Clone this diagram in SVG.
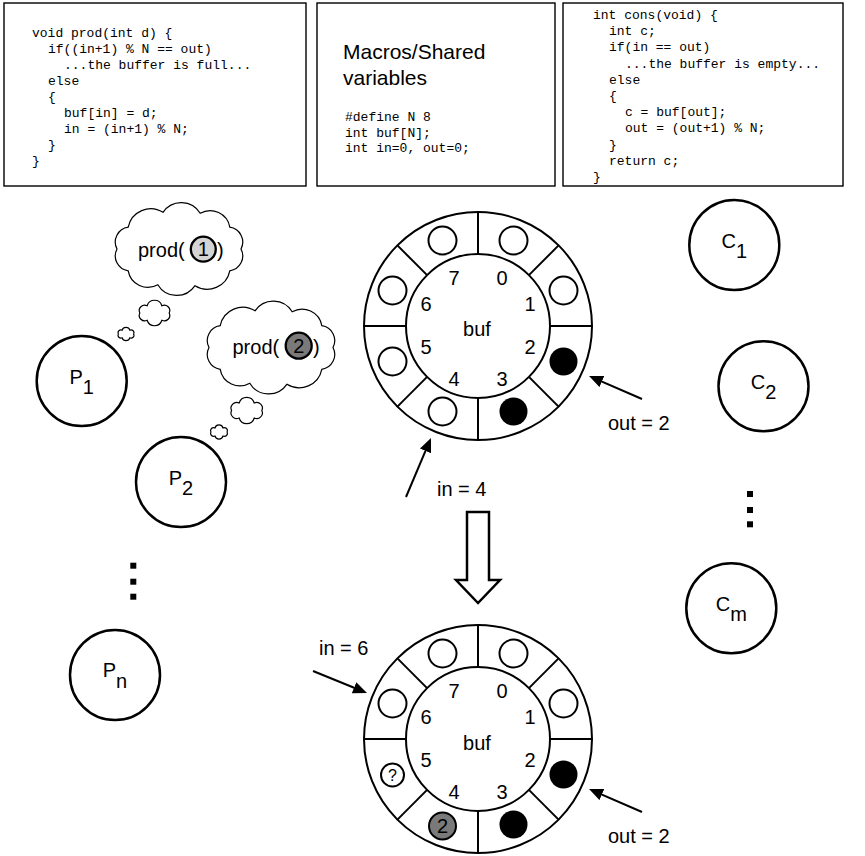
<svg xmlns="http://www.w3.org/2000/svg" xmlns:xlink="http://www.w3.org/1999/xlink" width="865" height="856" viewBox="0 0 865 856">
<style>
.box{fill:#fff;stroke:#000;stroke-width:1.4}
.code{font-family:"Liberation Mono","Courier New",monospace;font-size:13px;fill:#000}
.sans{font-family:"Liberation Sans",Arial,Helvetica,sans-serif;fill:#000}
.big{font-size:21px}
.lbl{font-size:20px}
.num{font-size:20px;text-anchor:middle}
.proc{fill:#fff;stroke:#000;stroke-width:2.5}
.ring{fill:#fff;stroke:#000;stroke-width:2}
.slot{fill:#fff;stroke:#000;stroke-width:2}
.full{fill:#000}
.arrow{fill:none;stroke:#000;stroke-width:2;marker-end:url(#ah)}
.cl{fill:#fff;stroke:#000}
.dot{fill:#000}
</style>
<defs>
<marker id="ah" markerUnits="userSpaceOnUse" markerWidth="15" markerHeight="12" refX="10" refY="6" orient="auto">
<path d="M0,0 L14,6 L0,12 Z" fill="#000"/>
</marker>
<path id="cloudBig" d="M62,0 A15,15 0 0,1 50.8,21.8 A23,23 0 0,1 16,36.7 A22,22 0 0,1 -21.2,35.7 A20,20 0 0,1 -50.8,21.8 A15,15 0 0,1 -62,0 A15,15 0 0,1 -50.8,-21.8 A23,23 0 0,1 -16,-36.7 A22,22 0 0,1 21.2,-35.7 A20,20 0 0,1 50.8,-21.8 A15,15 0 0,1 62,0 Z"/>
<path id="cloudSmall" d="M14,0 A5.2,5.2 0 0,1 7,6.93 A7.3,7.3 0 0,1 -7,6.93 A5.2,5.2 0 0,1 -14,0 A5.2,5.2 0 0,1 -7,-6.93 A7.3,7.3 0 0,1 7,-6.93 A5.2,5.2 0 0,1 14,0 Z"/>
<g id="ringBase">
<circle class="ring" r="114"/>
<circle class="ring" r="72"/>
<g stroke="#000" stroke-width="2">
<line x1="0" y1="-72" x2="0" y2="-114"/>
<line x1="50.9" y1="-50.9" x2="80.6" y2="-80.6"/>
<line x1="72" y1="0" x2="114" y2="0"/>
<line x1="50.9" y1="50.9" x2="80.6" y2="80.6"/>
<line x1="0" y1="72" x2="0" y2="114"/>
<line x1="-50.9" y1="50.9" x2="-80.6" y2="80.6"/>
<line x1="-72" y1="0" x2="-114" y2="0"/>
<line x1="-50.9" y1="-50.9" x2="-80.6" y2="-80.6"/>
</g>
</g>
</defs>
<rect width="865" height="856" fill="#fff"/>

<g id="box-prod">
<rect class="box" x="4" y="3" width="302" height="183"/>
<text class="code" x="32" y="37">void prod(int d) {</text>
<text class="code" x="48" y="53">if((in+1) % N == out)</text>
<text class="code" x="64" y="69">...the buffer is full...</text>
<text class="code" x="48" y="85">else</text>
<text class="code" x="48" y="101">{</text>
<text class="code" x="64" y="117">buf[in] = d;</text>
<text class="code" x="64" y="133">in = (in+1) % N;</text>
<text class="code" x="48" y="149">}</text>
<text class="code" x="32" y="165">}</text>
</g>

<g id="box-shared">
<rect class="box" x="317" y="3" width="238" height="183"/>
<text class="sans big" x="343" y="59">Macros/Shared</text>
<text class="sans big" x="343" y="85">variables</text>
<text class="code" x="345" y="121">#define N 8</text>
<text class="code" x="345" y="136.5">int buf[N];</text>
<text class="code" x="345" y="152">int in=0, out=0;</text>
</g>

<g id="box-cons">
<rect class="box" x="563" y="3" width="280" height="183"/>
<text class="code" x="593" y="19">int cons(void) {</text>
<text class="code" x="609" y="35.2">int c;</text>
<text class="code" x="609" y="51.4">if(in == out)</text>
<text class="code" x="625" y="67.6">...the buffer is empty...</text>
<text class="code" x="609" y="83.8">else</text>
<text class="code" x="609" y="100">{</text>
<text class="code" x="625" y="116.2">c = buf[out];</text>
<text class="code" x="625" y="132.4">out = (out+1) % N;</text>
<text class="code" x="609" y="148.6">}</text>
<text class="code" x="609" y="164.8">return c;</text>
<text class="code" x="593" y="181">}</text>
</g>

<g id="thought-1">
<use xlink:href="#cloudBig" class="cl" stroke-width="1.2" transform="translate(179,249)"/>
<use xlink:href="#cloudSmall" class="cl" stroke-width="1.15" transform="translate(154.5,313) scale(1.05)"/>
<use xlink:href="#cloudSmall" class="cl" stroke-width="2.2" transform="translate(126,334) scale(0.55)"/>
<text class="sans lbl" x="138" y="257">prod(</text>
<circle cx="203.3" cy="249.2" r="12.5" fill="#d4d4d4" stroke="#000" stroke-width="2.3"/>
<text class="sans num" x="203.3" y="256.3">1</text>
<text class="sans lbl" x="217" y="257">)</text>
</g>

<g id="thought-2">
<use xlink:href="#cloudBig" class="cl" stroke-width="1.2" transform="translate(271,347.5)"/>
<use xlink:href="#cloudSmall" class="cl" stroke-width="1.1" transform="translate(246.7,410.5) scale(1.08)"/>
<use xlink:href="#cloudSmall" class="cl" stroke-width="2.1" transform="translate(219,432) scale(0.58)"/>
<text class="sans lbl" x="232.5" y="353.5">prod(</text>
<circle cx="298.7" cy="345.7" r="13" fill="#7a7a7a" stroke="#000" stroke-width="2.3"/>
<text class="sans num" x="298.7" y="352.8">2</text>
<text class="sans lbl" x="313" y="353.5">)</text>
</g>

<g id="P1">
<circle class="proc" cx="81.7" cy="381" r="45"/>
<text class="sans lbl" x="81.7" y="384" text-anchor="middle">P<tspan dy="10">1</tspan></text>
</g>
<g id="P2">
<circle class="proc" cx="181" cy="482" r="45"/>
<text class="sans lbl" x="181" y="485" text-anchor="middle">P<tspan dy="10">2</tspan></text>
</g>
<g id="P-dots">
<rect class="dot" x="130.3" y="562.7" width="6" height="6"/>
<rect class="dot" x="130.3" y="578.7" width="6" height="6"/>
<rect class="dot" x="130.3" y="593.7" width="6" height="6"/>
</g>
<g id="Pn">
<circle class="proc" cx="115" cy="675" r="45"/>
<text class="sans lbl" x="115" y="677" text-anchor="middle">P<tspan dy="11">n</tspan></text>
</g>

<g id="C1">
<circle class="proc" cx="734.3" cy="245" r="45"/>
<text class="sans lbl" x="734.3" y="248" text-anchor="middle">C<tspan dy="10">1</tspan></text>
</g>
<g id="C2">
<circle class="proc" cx="763.5" cy="386.3" r="45"/>
<text class="sans lbl" x="763.5" y="389.3" text-anchor="middle">C<tspan dy="10">2</tspan></text>
</g>
<g id="C-dots">
<rect class="dot" x="747" y="491" width="6" height="6"/>
<rect class="dot" x="747" y="507" width="6" height="6"/>
<rect class="dot" x="747" y="521.3" width="6" height="6"/>
</g>
<g id="Cm">
<circle class="proc" cx="731.3" cy="608.3" r="45"/>
<text class="sans lbl" x="731.3" y="611.3" text-anchor="middle">C<tspan dy="10">m</tspan></text>
</g>

<g id="buffer-before" transform="translate(478,326)">
<use xlink:href="#ringBase"/>
<circle class="slot" cx="35.5" cy="-85.5" r="14"/>
<circle class="slot" cx="85.5" cy="-35.5" r="14"/>
<circle class="full" cx="85.5" cy="35.5" r="14"/>
<circle class="full" cx="35.5" cy="85.5" r="14"/>
<circle class="slot" cx="-35.5" cy="85.5" r="14"/>
<circle class="slot" cx="-85.5" cy="35.5" r="14"/>
<circle class="slot" cx="-85.5" cy="-35.5" r="14"/>
<circle class="slot" cx="-35.5" cy="-85.5" r="14"/>
<text class="sans num" x="24" y="-41">0</text>
<text class="sans num" x="52" y="-15">1</text>
<text class="sans num" x="52" y="28">2</text>
<text class="sans num" x="24" y="60">3</text>
<text class="sans num" x="-24" y="60">4</text>
<text class="sans num" x="-52" y="28">5</text>
<text class="sans num" x="-52" y="-15">6</text>
<text class="sans num" x="-24" y="-41">7</text>
<text class="sans num" x="-1" y="9.5">buf</text>
</g>

<g id="buffer-after" transform="translate(478,739)">
<use xlink:href="#ringBase"/>
<circle class="slot" cx="35.5" cy="-85.5" r="14"/>
<circle class="slot" cx="85.5" cy="-35.5" r="14"/>
<circle class="full" cx="85.5" cy="35.5" r="14"/>
<circle class="full" cx="35.5" cy="85.5" r="14"/>
<circle cx="-35.5" cy="87" r="13.5" fill="#7a7a7a" stroke="#000" stroke-width="2"/>
<text class="sans num" x="-35.5" y="94">2</text>
<circle class="slot" cx="-85.5" cy="36" r="11.5"/>
<text class="sans" x="-85.5" y="41.5" font-size="16" text-anchor="middle">?</text>
<circle class="slot" cx="-85.5" cy="-35.5" r="14"/>
<circle class="slot" cx="-35.5" cy="-85.5" r="14"/>
<text class="sans num" x="24" y="-41">0</text>
<text class="sans num" x="52" y="-15">1</text>
<text class="sans num" x="52" y="28">2</text>
<text class="sans num" x="24" y="60">3</text>
<text class="sans num" x="-24" y="60">4</text>
<text class="sans num" x="-52" y="28">5</text>
<text class="sans num" x="-52" y="-15">6</text>
<text class="sans num" x="-24" y="-41">7</text>
<text class="sans num" x="-1" y="10.5">buf</text>
</g>

<g id="labels">
<text class="sans lbl" x="437" y="496">in = 4</text>
<text class="sans lbl" x="608" y="430">out = 2</text>
<text class="sans lbl" x="319" y="655">in = 6</text>
<text class="sans lbl" x="608" y="843">out = 2</text>
</g>

<g id="connectors">
<line class="arrow" x1="406" y1="497" x2="429.4" y2="441.7"/>
<line class="arrow" x1="642" y1="399" x2="592.7" y2="377.6"/>
<line class="arrow" x1="313" y1="671" x2="363.3" y2="691.5"/>
<line class="arrow" x1="642" y1="812" x2="592.7" y2="790.6"/>
<polygon points="467,512 489,512 489,580 500,580 478,603 456,580 467,580" fill="#fff" stroke="#000" stroke-width="2.5"/>
</g>
</svg>
